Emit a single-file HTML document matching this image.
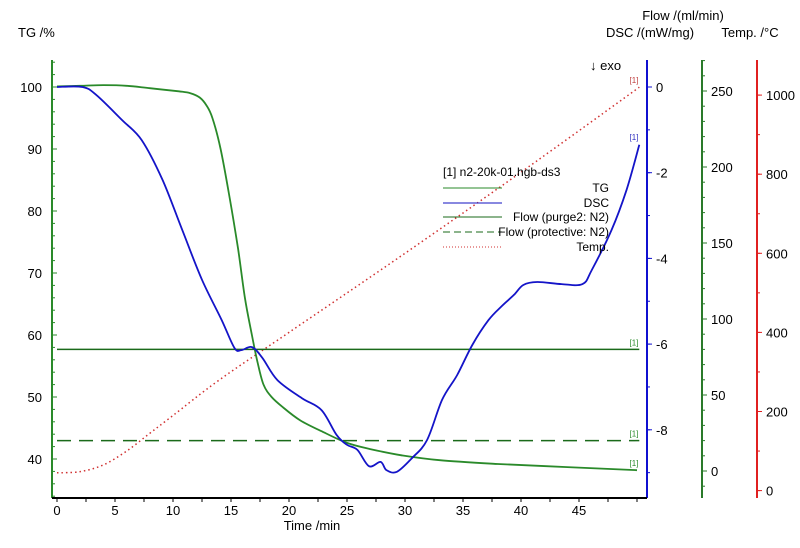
<!DOCTYPE html>
<html><head><meta charset="utf-8"><style>
html,body{margin:0;padding:0;background:#fff;}
svg{display:block;font-family:"Liberation Sans",Arial,sans-serif;}
</style></head><body>
<svg id="chart" width="800" height="548" viewBox="0 0 800 548" xmlns="http://www.w3.org/2000/svg">
<g id="axes"></g>
<g id="series"></g>
<g id="legend">
  <text x="443" y="176" font-size="12" fill="#000">[1] n2-20k-01.hgb-ds3</text>
  <line x1="443" y1="188" x2="502" y2="188" stroke="#2a8a2a" stroke-width="1"/>
  <text x="609" y="192" font-size="12" text-anchor="end">TG</text>
  <line x1="443" y1="203" x2="502" y2="203" stroke="#1010c0" stroke-width="1"/>
  <text x="609" y="207" font-size="12" text-anchor="end">DSC</text>
  <line x1="443" y1="217" x2="502" y2="217" stroke="#1a6a1a" stroke-width="1"/>
  <text x="609" y="221" font-size="12" text-anchor="end">Flow (purge2: N2)</text>
  <line x1="443" y1="232" x2="502" y2="232" stroke="#1a6a1a" stroke-width="1" stroke-dasharray="7,4"/>
  <text x="609" y="236" font-size="12" text-anchor="end">Flow (protective: N2)</text>
  <line x1="443" y1="247" x2="502" y2="247" stroke="#d03030" stroke-width="1" stroke-dasharray="1,2"/>
  <text x="609" y="251" font-size="12" text-anchor="end">Temp.</text>
</g>
<text x="18" y="37" font-size="13">TG /%</text>
<text x="683" y="20" font-size="13" text-anchor="middle">Flow /(ml/min)</text>
<text x="650" y="37" font-size="13" text-anchor="middle">DSC /(mW/mg)</text>
<text x="750" y="37" font-size="13" text-anchor="middle">Temp. /°C</text>
<text x="312" y="530" font-size="13" text-anchor="middle">Time /min</text>
<text x="590" y="70" font-size="13">↓ exo</text>
</svg>
<script>
const timeTicks=[0,5,10,15,20,25,30,35,40,45];
const tgTicks=[40,50,60,70,80,90,100];
const dscTicks=[0,-2,-4,-6,-8];
const flowTicks=[0,50,100,150,200,250];
const tempTicks=[0,200,400,600,800,1000];
const tgTime=[0,2,4,6,8,10.5,11.5,12.3,12.9,13.4,14.1,14.9,15.6,16.2,16.8,17.3,17.8,18.5,19.5,21,23,25,27,29.7,33,38,44,50];
const tgValues=[100.1,100.2,100.3,100.2,99.8,99.3,99,98.3,97,95,90,82,74,66,60,55.5,52,50,48.3,46.2,44.3,42.6,41.6,40.6,39.8,39.2,38.7,38.2];
const dscTime=[0,2.2,3.4,5.6,7.3,9.1,10.8,12.5,14.2,15.3,15.9,16.8,17.7,19,21.1,22.8,24.1,25,25.9,26.9,27.9,28.4,29.3,30.6,31.9,33.2,34.5,35.8,37.2,38.4,39.4,40.2,41.4,43.5,45.3,46.1,47.8,49.1,50.2];
const dscValues=[0,0,-0.19,-0.77,-1.24,-2.17,-3.34,-4.5,-5.44,-6.09,-6.14,-6.07,-6.32,-6.84,-7.26,-7.54,-8.12,-8.35,-8.47,-8.85,-8.75,-8.94,-8.98,-8.66,-8.24,-7.3,-6.72,-6.02,-5.44,-5.1,-4.85,-4.62,-4.55,-4.6,-4.6,-4.27,-3.34,-2.4,-1.35];
const flowPurge=[80,80];
const flowProtective=[20,20];
const flowTime=[0,50.2];
const tempTime=[0,2,4,6,8,10,14,20,30,40,50.2];
const tempValues=[45,48,65,100,145,190,280,400,600,805,1020];

const NS='http://www.w3.org/2000/svg';
const X0=52,X1=647,Y0=60,Y1=498;
const xs=t=>57+t*11.6;
const ys_tg=v=>459-(v-40)*6.2;
const ys_dsc=v=>87-v*42.85;
const ys_flow=v=>471-v*1.52;
const ys_temp=v=>490.6-v*0.3955;
function el(tag,attrs,parent){const e=document.createElementNS(NS,tag);for(const k in attrs)e.setAttribute(k,attrs[k]);parent.appendChild(e);return e;}
const axes=document.getElementById('axes');
const series=document.getElementById('series');

function vAxis(x,color,ticks,minorStep,min,max,ysf,name,labelSide){
  const g=el('g',{},axes);
  
  
  el('line',{x1:x,y1:Y0,x2:x,y2:Y1,stroke:color,'stroke-width':2},g);
  for(let v=Math.ceil(min/minorStep)*minorStep;v<=max;v+=minorStep){
    const y=ysf(v);if(y<Y0||y>Y1)continue;
    el('line',{x1:x,y1:y,x2:x+3,y2:y,stroke:color,'stroke-width':1},g);
  }
  ticks.forEach(v=>{
    const y=ysf(v);
    el('line',{x1:x-1,y1:y,x2:x+5,y2:y,stroke:color,'stroke-width':1},g);
    const t=el('text',{x:labelSide<0?x-10:x+9,y:y+5,'font-size':13,'text-anchor':labelSide<0?'end':'start',fill:'#000'},g);
    t.textContent=v;
    
    
  });
}
vAxis(X0,'#2a8a2a',tgTicks,2,34,104,ys_tg,'tg-axis',-1);
vAxis(X1,'#1010d0',dscTicks,1,-10,1,ys_dsc,'dsc-axis',1);
vAxis(702,'#2a7a2a',flowTicks,10,-20,270,ys_flow,'flow-axis',1);
vAxis(757,'#e02020',tempTicks,100,0,1100,ys_temp,'temp-axis',1);

const xg=el('g',{},axes);


el('line',{x1:X0,y1:Y1,x2:X1,y2:Y1,stroke:'#000','stroke-width':2},xg);
for(let t=0;t<=50;t+=2.5){el('line',{x1:xs(t),y1:Y1,x2:xs(t),y2:Y1+4,stroke:'#000'},xg);}
timeTicks.forEach(t=>{
  const tx=el('text',{x:xs(t),y:Y1+17,'font-size':13,'text-anchor':'middle'},xg);
  tx.textContent=t;
  
  
});

function path(ts,vs,ysf,attrs,name,smooth){
  const P=ts.map((t,i)=>[xs(t),ysf(vs[i])]);
  let d='M'+P[0][0].toFixed(1)+','+P[0][1].toFixed(1);
  for(let i=0;i<P.length-1;i++){
    if(!smooth){d+=' L'+P[i+1][0].toFixed(1)+','+P[i+1][1].toFixed(1);continue;}
    const p0=P[Math.max(0,i-1)],p1=P[i],p2=P[i+1],p3=P[Math.min(P.length-1,i+2)];
    const c1=[p1[0]+(p2[0]-p0[0])/6,p1[1]+(p2[1]-p0[1])/6];
    const c2=[p2[0]-(p3[0]-p1[0])/6,p2[1]-(p3[1]-p1[1])/6];
    d+=' C'+c1[0].toFixed(1)+','+c1[1].toFixed(1)+' '+c2[0].toFixed(1)+','+c2[1].toFixed(1)+' '+p2[0].toFixed(1)+','+p2[1].toFixed(1);
  }
  const p=el('path',Object.assign({d:d,fill:'none'},attrs),series);
  
  
  return p;
}
path(tempTime,tempValues,ys_temp,{stroke:'#d03030','stroke-width':1.5,'stroke-dasharray':'1.5,3'},'temp-line',true);
path(flowTime,flowPurge,ys_flow,{stroke:'#1a6a1a','stroke-width':1.5},'flow-purge-line',false);
path(flowTime,flowProtective,ys_flow,{stroke:'#1a6a1a','stroke-width':1.5,'stroke-dasharray':'14,8'},'flow-protective-line',false);
path(tgTime,tgValues,ys_tg,{stroke:'#2a8a2a','stroke-width':1.8,'stroke-linejoin':'round'},'tg-line',true);
path(dscTime,dscValues,ys_dsc,{stroke:'#1414c8','stroke-width':1.8,'stroke-linejoin':'round'},'dsc-line',true);

function endLabel(y,color,name){
  const t=el('text',{x:634,y:y,'font-size':8,fill:color,'text-anchor':'middle'},series);
  t.textContent='[1]';
  
  
}
endLabel(ys_temp(tempValues[tempValues.length-1])-4,'#c04040','temp-end-label');
endLabel(ys_dsc(dscValues[dscValues.length-1])-5,'#3030c0','dsc-end-label');
endLabel(ys_flow(flowPurge[1])-4,'#2a8a2a','purge-end-label');
endLabel(ys_flow(flowProtective[1])-4,'#2a8a2a','protective-end-label');
endLabel(ys_tg(tgValues[tgValues.length-1])-4,'#2a8a2a','tg-end-label');
</script>
</body></html>
